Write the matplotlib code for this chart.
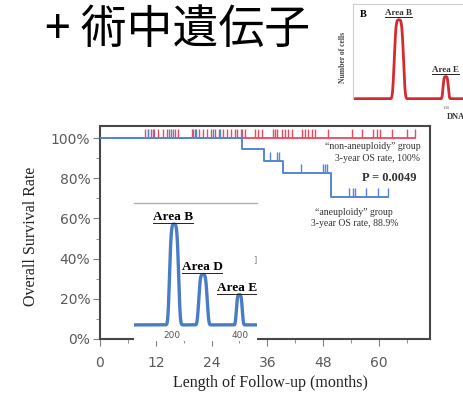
import matplotlib
matplotlib.use("Agg")
import matplotlib.pyplot as plt
import numpy as np
from matplotlib.ticker import MultipleLocator, PercentFormatter
from matplotlib.lines import Line2D

# ---- data ----
# non-aneuploidy group: no events, censored times (months)
red_censor = [9.7, 10.3, 11.0, 11.6, 12.5, 13.5, 14.4, 15.3, 16.1, 16.8,
              19.8, 20.4, 21.3, 22.2, 23.0, 23.9, 24.7, 25.6, 26.5, 27.3,
              28.2, 29.0, 29.5, 30.5, 31.2, 33.3, 34.0, 34.8, 37.2, 37.6,
              38.1, 39.1, 39.8, 40.4, 41.3, 43.4, 44.1, 44.7, 45.6, 46.2,
              49.0, 54.2, 56.3, 58.7, 59.6, 60.2, 62.8, 66.0, 67.7]
red_end = 67.7
# aneuploidy group: step curve
blue_times = [0, 30.5, 35.3, 39.4, 49.7]
blue_surv = [1.0, 0.945, 0.886, 0.826, 0.706]
blue_end = 61.9
blue_censor = [10.3, 11.4, 14.8, 15.7, 20.0, 20.6, 24.3, 25.8, 30.3,
               36.6, 38.1, 38.5, 43.2, 47.9, 48.4, 48.9,
               53.6, 54.5, 54.8, 57.3, 59.9, 61.9]

# DNA histogram insets (peak position, relative height, width)
blue_peak_pos = [206, 291, 398]
blue_peak_h = [1.0, 0.5, 0.3]
blue_peak_w = [32, 30, 21]
blue_peak_names = ["Area B", "Area D", "Area E"]
blue_label_x = [203, 288, 332]
red_peak_pos = [49.5, 100]
red_peak_h = [1.0, 0.28]
red_peak_w = [12, 7]
red_peak_names = ["Area B", "Area E"]

W, H = 464, 395
fig = plt.figure(figsize=(W / 100, H / 100), dpi=100)
fig.patch.set_facecolor("white")


def px_axes(x0, y0, x1, y1, **kw):
    return fig.add_axes([x0 / W, 1 - y1 / H, (x1 - x0) / W, (y1 - y0) / H], **kw)


serif = "Liberation Serif"
tick_col = "#5a5a5a"
blue = "#5585d6"
red = "#e84a5f"

# ---- title ----
fig.text(45 / W, 1 - 43 / H, "+ 術中遺伝子", fontsize=33,
         family=["Noto Sans CJK JP", "DejaVu Sans"], va="baseline", ha="left")

# ---- main KM chart ----
ax = px_axes(100, 126, 430, 339)
ax.set_xlim(0, 71)
ax.set_ylim(0, 1.06)
for s in ax.spines.values():
    s.set_color("#474747")
    s.set_linewidth(1.5)

ax.xaxis.set_major_locator(MultipleLocator(12))
ax.xaxis.set_minor_locator(MultipleLocator(6))
ax.yaxis.set_major_locator(MultipleLocator(0.2))
ax.yaxis.set_minor_locator(MultipleLocator(0.1))
ax.yaxis.set_major_formatter(PercentFormatter(1.0, decimals=0))
ax.tick_params(which="both", direction="out", color="#808080")
ax.tick_params(which="major", length=5, labelsize=10, labelcolor=tick_col)
ax.tick_params(which="minor", length=3)
ax.tick_params(axis="x", pad=7)
ax.tick_params(axis="y", pad=2)

# non-aneuploidy line + censor marks
ax.plot([0, red_end], [1.0, 1.0], color=red, lw=1.3, zorder=2)
ax.vlines(red_censor, 1.0, 1.045, color=red, lw=1.0, zorder=3)
# aneuploidy step curve + censor marks
bt = blue_times + [blue_end]
bs = blue_surv + [blue_surv[-1]]
ax.step(bt, bs, where="post", color=blue, lw=1.4, zorder=4)
levels = np.array(blue_surv)[np.searchsorted(blue_times, blue_censor, side="right") - 1]
ax.vlines(blue_censor, levels, levels + 0.045, color=blue, lw=1.0, zorder=4)

tkw = dict(family=serif, ha="center", va="center", color="#333333")
ax.text(58.7, 0.96, "\u201cnon-aneuploidy\u201d group", fontsize=7, **tkw)
ax.text(59.8, 0.90, "3-year OS rate, 100%", fontsize=7, **tkw)
ax.text(62.2, 0.80, "P = 0.0049", fontsize=9, fontweight="bold", **tkw)
ax.text(54.6, 0.632, "\u201caneuploidy\u201d group", fontsize=7, **tkw)
ax.text(54.8, 0.577, "3-year OS rate, 88.9%", fontsize=7, **tkw)

fig.text(31 / W, 1 - 236 / H, "Overall Survival Rate", rotation=90,
         family=serif, fontsize=11.5, ha="center", va="center", color="#222222")
fig.text(270 / W, 1 - 383 / H, "Length of Follow-up (months)",
         family=serif, fontsize=11.5, ha="center", va="center", color="#222222")


def peak_curve(xs, pos, h, w):
    y = np.zeros_like(xs)
    for p, hh, ww in zip(pos, h, w):
        y = y + hh * np.exp(-0.5 * ((xs - p) / (ww / 2.6)) ** 4)
    return y


# ---- blue inset histogram ----
ins = px_axes(134, 203, 257, 341)
ins.set_facecolor("white")
ins.set_xlim(88, 450)
ins.set_ylim(-0.16, 1.21)
ins.set_xticks([])
ins.set_yticks([])
for k in ["left", "right", "bottom"]:
    ins.spines[k].set_visible(False)
ins.spines["top"].set_color("#b0b0b0")
ins.spines["top"].set_linewidth(1.0)
xs = np.linspace(88, 450, 800)
ins.plot(xs, peak_curve(xs, blue_peak_pos, blue_peak_h, blue_peak_w),
         color="#4a7cc6", lw=2.4, solid_capstyle="round")
for lab in [200, 400]:
    ins.text(lab, -0.105, str(lab), fontsize=6.5, color="#555555",
             ha="center", va="center")
ins.text(449, 0.65, "]", fontsize=6, color="#777777", ha="right", va="center")

label_texts = []
for lx, hh, name in zip(blue_label_x, blue_peak_h, blue_peak_names):
    ha = "left" if name == "Area E" else "center"
    t = ins.text(lx, hh + 0.07, name, family=serif, fontsize=9.5,
                 fontweight="bold", ha=ha, va="center", clip_on=True)
    label_texts.append((ins, t))

# ---- red inset histogram (top right) ----
rin = px_axes(353, 4, 480, 99.5)
rin.set_facecolor("white")
rin.set_xlim(0, 137)
rin.set_ylim(-0.01, 1.2)
rin.set_xticks([])
rin.set_yticks([])
rin.spines["bottom"].set_visible(False)
rin.spines["right"].set_visible(False)
rin.spines["left"].set_color("#cfcfcf")
rin.spines["top"].set_color("#cfcfcf")
xr = np.linspace(0, 137, 800)
rin.plot(xr, peak_curve(xr, red_peak_pos, red_peak_h, red_peak_w),
         color="#d42a30", lw=2.0)
rin.text(7, 1.07, "B", family=serif, fontsize=7.5, fontweight="bold",
         ha="left", va="center")
for p, hh, name in zip(red_peak_pos, red_peak_h, red_peak_names):
    t = rin.text(p, hh + 0.08, name, family=serif, fontsize=6.5,
                 fontweight="bold", ha="center", va="center", color="#333333")
    label_texts.append((rin, t))
fig.text(343 / W, 1 - 57 / H, "Number of cells", rotation=90, family=serif,
         fontsize=5.5, fontweight="bold", ha="center", va="center", color="#444444")
fig.text(446 / W, 1 - 108 / H, "100", family=serif, fontsize=3.5,
         ha="center", va="center", color="#666666")
fig.text(447 / W, 1 - 117 / H, "DNA", family=serif, fontsize=6,
         fontweight="bold", ha="left", va="center", color="#333333")

# underline the peak labels
fig.canvas.draw()
r = fig.canvas.get_renderer()
for a, t in label_texts:
    bb = t.get_window_extent(r)
    inv = a.transData.inverted()
    (x0, y0), (x1, _) = inv.transform([(bb.x0, bb.y0), (bb.x1, bb.y0)])
    a.add_line(Line2D([x0, x1], [y0, y0], color="#222222", lw=0.7))

fig.savefig("out.png", dpi=100)
